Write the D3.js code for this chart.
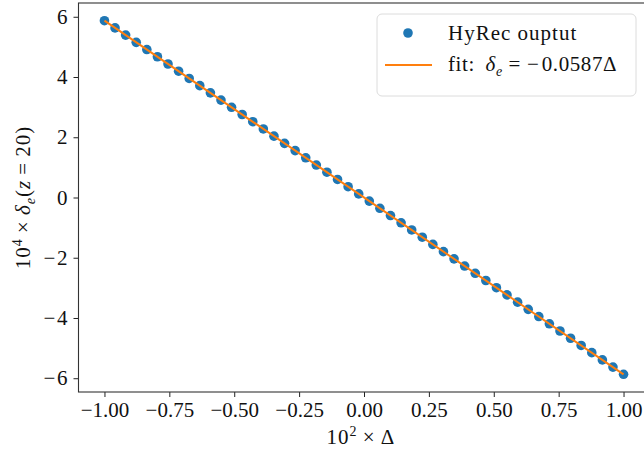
<!DOCTYPE html>
<html>
<head>
<meta charset="utf-8">
<script src="https://cdn.jsdelivr.net/npm/d3@7"></script>
<style>
  body { margin: 0; background: #fff; }
  svg { display: block; font-family: 'Liberation Serif', 'DejaVu Serif', serif; }
</style>
</head>
<body>
<div id="chart"></div>
<script>
// --- data ---
const deltaX = [
  -1.0000, -0.9592, -0.9184, -0.8776, -0.8367, -0.7959, -0.7551, -0.7143, -0.6735, -0.6327,
  -0.5918, -0.5510, -0.5102, -0.4694, -0.4286, -0.3878, -0.3469, -0.3061, -0.2653, -0.2245,
  -0.1837, -0.1429, -0.1020, -0.0612, -0.0204, 0.0204, 0.0612, 0.1020, 0.1429, 0.1837,
  0.2245, 0.2653, 0.3061, 0.3469, 0.3878, 0.4286, 0.4694, 0.5102, 0.5510, 0.5918,
  0.6327, 0.6735, 0.7143, 0.7551, 0.7959, 0.8367, 0.8776, 0.9184, 0.9592, 1.0000
];
const hyrecY = [
  5.870, 5.630, 5.391, 5.151, 4.911, 4.672, 4.432, 4.193, 3.953, 3.714,
  3.474, 3.234, 2.995, 2.755, 2.516, 2.276, 2.036, 1.797, 1.557, 1.318,
  1.078, 0.839, 0.599, 0.359, 0.120, -0.120, -0.359, -0.599, -0.839, -1.078,
  -1.318, -1.557, -1.797, -2.036, -2.276, -2.516, -2.755, -2.995, -3.234, -3.474,
  -3.714, -3.953, -4.193, -4.432, -4.672, -4.911, -5.151, -5.391, -5.630, -5.870
];
const fitX = [-1.0, 1.0];
const fitY = [5.87, -5.87];
const xTicks = [-1.00, -0.75, -0.50, -0.25, 0.00, 0.25, 0.50, 0.75, 1.00];
const yTicks = [-6, -4, -2, 0, 2, 4, 6];

const width = 644, height = 455;
const plotL = 78.5, plotR = 649.5, plotT = 3, plotB = 392;
const fontSize = 21;

const svg = d3.select("#chart").append("svg")
  .attr("width", width).attr("height", height);
svg.append("rect").attr("width", width).attr("height", height).attr("fill", "#fff");

const x = d3.scaleLinear().domain([-1.1, 1.1]).range([plotL, plotR]);
const y = d3.scaleLinear().domain([-6.457, 6.457]).range([plotB, plotT]);

// latex style minus: a touch wider than the plain glyph
const fmtMinus = s => s.replace("-", "\u2212\u200a");

// axes
const xAxis = svg.append("g")
  .attr("transform", `translate(0,${plotB})`)
  .call(d3.axisBottom(x).tickValues(xTicks).tickSize(5).tickPadding(5)
    .tickFormat(d => fmtMinus(d3.format(".2f")(d))));
const yAxis = svg.append("g")
  .attr("transform", `translate(${plotL},0)`)
  .call(d3.axisLeft(y).tickValues(yTicks).tickSize(5).tickPadding(6)
    .tickFormat(d => fmtMinus(String(d))));

[xAxis, yAxis].forEach(a => {
  a.select(".domain").remove();
  a.selectAll(".tick line").attr("stroke", "#222").attr("stroke-width", 1);
  a.selectAll(".tick text")
    .attr("fill", "#111")
    .style("font-family", "'Liberation Serif', serif")
    .style("font-size", fontSize + "px");
});

// frame
svg.append("rect")
  .attr("x", plotL).attr("y", plotT)
  .attr("width", plotR - plotL).attr("height", plotB - plotT)
  .attr("fill", "none").attr("stroke", "#333").attr("stroke-width", 1.1);

// data points
svg.append("g").selectAll("circle")
  .data(deltaX.map((d, i) => [d, hyrecY[i]]))
  .join("circle")
  .attr("cx", d => x(d[0]))
  .attr("cy", d => y(d[1]))
  .attr("r", 4.8)
  .attr("fill", "#1f77b4");

// fit line
svg.append("path")
  .datum(fitX.map((d, i) => [d, fitY[i]]))
  .attr("d", d3.line().x(d => x(d[0])).y(d => y(d[1])))
  .attr("fill", "none")
  .attr("stroke", "#ff7f0e")
  .attr("stroke-width", 2);

// axis labels
const xl = svg.append("text")
  .attr("x", 361).attr("y", 444)
  .attr("text-anchor", "middle")
  .style("font-size", fontSize + "px").style("letter-spacing", "1px").attr("fill", "#111");
xl.append("tspan").text("10");
xl.append("tspan").attr("dy", -8).style("font-size", "14px").text("2");
xl.append("tspan").attr("dy", 8).text("\u2009\u00d7\u2009\u0394");

const yl = svg.append("text")
  .attr("transform", `translate(30,${(plotT + plotB) / 2}) rotate(-90)`)
  .attr("text-anchor", "middle")
  .style("font-size", fontSize + "px").style("letter-spacing", "1px").attr("fill", "#111");
yl.append("tspan").text("10");
yl.append("tspan").attr("dy", -8).style("font-size", "14px").text("4");
yl.append("tspan").attr("dy", 8).text("\u2009\u00d7\u2009");
yl.append("tspan").style("font-style", "italic").text("\u03b4");
yl.append("tspan").attr("dy", 5).style("font-size", "14px").style("font-style", "italic").text("e");
yl.append("tspan").attr("dy", -5).text("(");
yl.append("tspan").style("font-style", "italic").text("z");
yl.append("tspan").text("\u2009=\u200920)");

// legend
const lg = svg.append("g");
lg.append("rect")
  .attr("x", 377).attr("y", 14).attr("width", 259).attr("height", 82)
  .attr("rx", 5).attr("fill", "#fff").attr("fill-opacity", 0.8)
  .attr("stroke", "#dcdcdc").attr("stroke-width", 1);
lg.append("circle").attr("cx", 408).attr("cy", 33).attr("r", 4.8).attr("fill", "#1f77b4");
lg.append("line").attr("x1", 385).attr("x2", 432).attr("y1", 65).attr("y2", 65)
  .attr("stroke", "#ff7f0e").attr("stroke-width", 2);
lg.append("text").attr("x", 448).attr("y", 40)
  .style("font-size", fontSize + "px").style("letter-spacing", "1px")
  .attr("fill", "#111").text("HyRec ouptut");
const ft = lg.append("text").attr("x", 448).attr("y", 71)
  .style("font-size", fontSize + "px").style("letter-spacing", "0.6px").attr("fill", "#111");
ft.append("tspan").text("fit:\u2009 ");
ft.append("tspan").style("font-style", "italic").text("\u03b4");
ft.append("tspan").attr("dy", 5).style("font-size", "14px").style("font-style", "italic").text("e");
ft.append("tspan").attr("dy", -5).text(" = \u2212\u200a0.0587\u0394");
</script>
</body>
</html>
